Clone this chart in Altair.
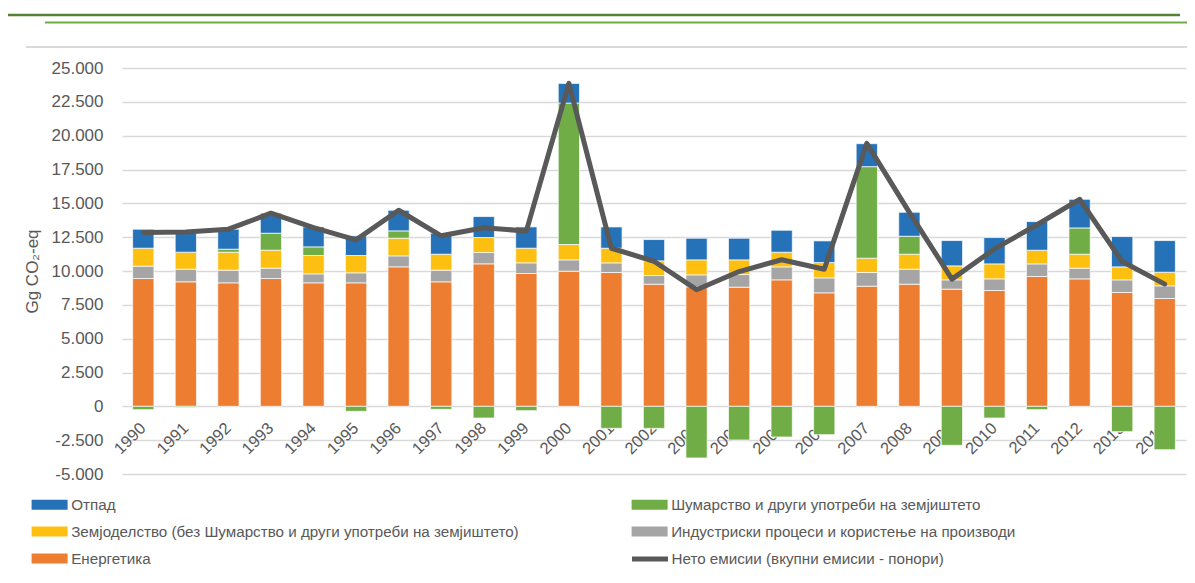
import altair as alt
import pandas as pd

years = [str(y) for y in range(1990, 2015)]

energy = [9446, 9200, 9127, 9446, 9127, 9127, 10307, 9200, 10529, 9815, 9985, 9887, 9026,
          8829, 8804, 9346, 8386, 8878, 9026, 8657, 8558, 9592, 9419, 8411, 7968]
industry = [911, 935, 934, 763, 664, 738, 812, 861, 836, 788, 837, 713, 639,
            886, 935, 959, 1107, 1009, 1107, 689, 861, 934, 788, 935, 935]
agriculture = [1328, 1255, 1329, 1328, 1353, 1279, 1304, 1181, 1107, 1082, 1131, 1083, 1083,
               1107, 1083, 1082, 1132, 1058, 1107, 1033, 1107, 1009, 1033, 959, 1008]
forestry = [-246, -80, 221, 1255, 639, -369, 541, -221, -861, -320, 10455, -1626, -1626,
            -3815, -2487, -2266, -2093, 6765, 1328, -2881, -863, -246, 1943, -1872, -3200]
waste = [1402, 1574, 1476, 1476, 1476, 1451, 1525, 1550, 1550, 1574, 1452, 1574, 1574,
         1599, 1599, 1624, 1599, 1697, 1771, 1869, 1944, 2116, 2116, 2239, 2337]
net = [12840, 12890, 13090, 14270, 13200, 12300, 14490, 12600, 13200, 12950, 23860, 11680, 10720,
       8620, 9960, 10830, 10130, 19430, 14330, 9400, 11630, 13420, 15300, 10700, 9030]

S_WASTE = "Отпад"
S_FOREST = "Шумарство и други употреби на земјиштето"
S_AGRI = "Земјоделство (без Шумарство и други употреби на земјиштето)"
S_IND = "Индустриски процеси и користење на производи"
S_EN = "Енергетика"
S_NET = "Нето емисии (вкупни емисии - понори)"

legend_order = [S_WASTE, S_FOREST, S_AGRI, S_IND, S_EN]
legend_colors = ["#2672B8", "#70AD47", "#FDC010", "#A5A5A5", "#ED7D31"]
NET_COLOR = "#595959"

stack_series = [(S_EN, energy), (S_IND, industry), (S_AGRI, agriculture),
                (S_FOREST, forestry), (S_WASTE, waste)]

rows = []
for order_i, (name, vals) in enumerate(stack_series):
    for y, v in zip(years, vals):
        rows.append({"year": y, "series": name, "value": v, "ord": order_i})
bars_df = pd.DataFrame(rows)
net_df = pd.DataFrame({"year": years, "value": net, "series": S_NET})

FONT = "Liberation Sans"
TXT = "#595959"

W, H = 1064, 406

x_axis = alt.Axis(title=None, labelAngle=315, labelAlign="right",
                  labelBaseline="middle", labelPadding=19, ticks=False,
                  tickSize=0, domain=False, grid=False, offset=-H / 6,
                  labelFont=FONT, labelFontSize=16.5, labelColor=TXT,
                  labelOverlap=False)
x_scale = alt.Scale(paddingInner=0.5, paddingOuter=0.25)

y_axis = alt.Axis(title="Gg CO₂-eq", values=list(range(-5000, 25001, 2500)),
                  labelExpr="replace(replace(format(datum.value, ','), ',', '.'), '\u2212', '-')",
                  ticks=False, tickSize=0, domain=False, labelPadding=19,
                  labelFont=FONT, labelFontSize=17, labelColor=TXT,
                  titleFont=FONT, titleFontSize=17, titleFontWeight="normal",
                  titleColor=TXT, titlePadding=10,
                  grid=True, gridColor="#d9d9d9", gridWidth=1.5)
y_scale = alt.Scale(domain=[-5000, 25000], nice=False, zero=False)

wide = "M-3.6,-1H3.6V1H-3.6Z"

legend = alt.Legend(
    title=None, orient="none", direction="horizontal", legendX=-80, legendY=429,
    columns=2, columnPadding=112, rowPadding=11, symbolType=wide, symbolSize=100,
    symbolStrokeWidth=0, labelFont=FONT, labelFontSize=15.2, labelColor=TXT,
    labelOffset=14, padding=0, labelLimit=700,
)

net_legend = alt.Legend(
    title=None, orient="none", legendX=507.5, legendY=470.5, symbolType="stroke",
    symbolSize=1296, symbolStrokeWidth=5, symbolStrokeColor=NET_COLOR,
    labelFont=FONT, labelFontSize=15.2, labelColor=TXT, labelOffset=1,
    padding=0, labelLimit=700,
)

color_scale = alt.Scale(domain=legend_order, range=legend_colors)

bars = alt.Chart(bars_df).mark_bar(stroke="#ffffff", strokeWidth=0.7).encode(
    x=alt.X("year:N", sort=years, scale=x_scale, axis=x_axis),
    y=alt.Y("value:Q", stack="zero", scale=y_scale, axis=y_axis),
    color=alt.Color("series:N", scale=color_scale, legend=legend),
    order=alt.Order("ord:Q", sort="ascending"),
)

line = alt.Chart(net_df).mark_line(strokeWidth=5, strokeCap="round", strokeJoin="round",
                                   color=NET_COLOR).encode(
    x=alt.X("year:N", sort=years, scale=x_scale, axis=x_axis),
    y=alt.Y("value:Q", scale=y_scale, axis=y_axis),
    opacity=alt.Opacity("series:N", scale=alt.Scale(domain=[S_NET], range=[1]),
                        legend=net_legend),
)

one = pd.DataFrame({"k": [0]})
deco_dark = alt.Chart(one).mark_rule(color="#548235", strokeWidth=2.5).encode(
    x=alt.value(-114), x2=alt.value(1058), y=alt.value(-53))
deco_light = alt.Chart(one).mark_rule(color="#70AD47", strokeWidth=2).encode(
    x=alt.value(-77), x2=alt.value(1080), y=alt.value(-45.5))
frame_top = alt.Chart(one).mark_rule(color="#d9d9d9", strokeWidth=2).encode(
    x=alt.value(-96), x2=alt.value(1080), y=alt.value(-21))

chart = alt.layer(bars, line, deco_dark, deco_light, frame_top).properties(
    width=W, height=H,
    autosize=alt.AutoSizeParams(type="none"),
    padding={"left": 114, "top": 60, "right": 1, "bottom": 96},
).configure_view(stroke=None)

chart.save("out.html", embed_options={"renderer": "svg", "actions": False})
